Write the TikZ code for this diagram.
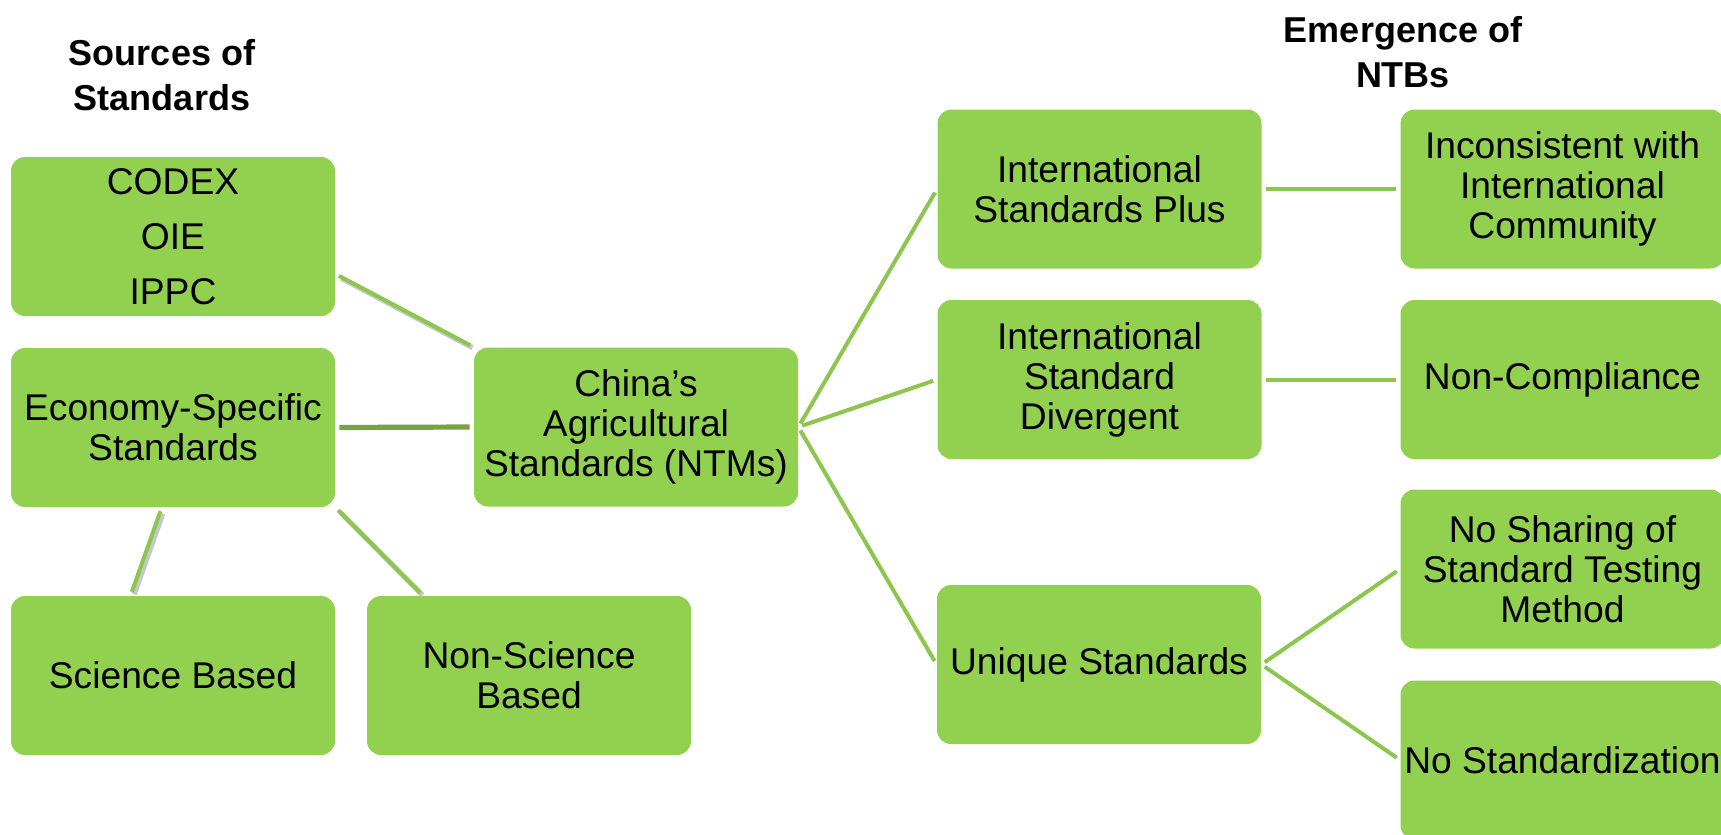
\documentclass[tikz,border=0pt]{standalone}
\usepackage{fontspec}
\setmainfont{Liberation Sans}
\usepackage{tikz}

\definecolor{boxgreen}{RGB}{146,208,80}
\definecolor{linegreen}{RGB}{141,198,78}
\definecolor{darkline}{RGB}{119,163,63}

\begin{document}
\begin{tikzpicture}[x=0.5pt,y=0.5pt,yscale=-1,xscale=1,
  greenbox/.style={fill=boxgreen, rounded corners=7pt, minimum width=162pt, minimum height=79.5pt, align=center, inner sep=0pt, font=\fontsize{18.6}{20}\selectfont},
  titletext/.style={align=center, font=\bfseries\fontsize{18}{22.5}\selectfont},
  link/.style={draw=linegreen, line width=2pt, shorten <=2pt, shorten >=2pt},
  shadowlink/.style={link, preaction={draw=black!22, line width=2.6pt, transform canvas={shift={(1.2pt,-1.2pt)}}}}
]
\clip (0,0) rectangle (1721,835);

% Titles
\node [titletext] (srctitle) at (162,75) {Sources of\\Standards};
\node [titletext] (ntbtitle) at (1403,52) {Emergence of\\NTBs};

% Sources of standards
\node [greenbox, font=\fontsize{18.6}{27.5}\selectfont] (codex) at (173,236.5) {CODEX\\OIE\\IPPC};
\node [greenbox] (econ) at (173,427.5) {Economy-Specific\\Standards};
\node [greenbox] (sci) at (173,675.5) {Science Based};
\node [greenbox] (nonsci) at (529,675.5) {Non-Science\\Based};

% Centre
\node [greenbox] (china) at (636,427) {China's\\Agricultural\\Standards (NTMs)};

% Kinds of standards
\node [greenbox] (plus) at (1099.5,189) {International\\Standards Plus};
\node [greenbox] (diverg) at (1099.5,379.5) {International\\Standard\\Divergent};
\node [greenbox] (unique) at (1099,664.5) {Unique Standards};

% Emergence of NTBs
\node [greenbox] (incons) at (1562.5,189) {Inconsistent with\\International\\Community};
\node [greenbox] (noncomp) at (1562.5,379.5) {Non-Compliance};
\node [greenbox] (noshare) at (1562.5,569) {No Sharing of\\Standard Testing\\Method};
\node [greenbox] (nostd) at (1562.5,760) {No Standardization};

% Connectors
\draw [shadowlink] (codex.-13) -- (china.north west);
\draw [link, draw=darkline, line width=2.6pt] (econ.east) -- (china.west);
\draw [shadowlink] (econ.-98) -- (sci.118);
\draw [shadowlink] (econ.south east) -- (nonsci.143);
\draw [link] (china.east) -- (plus.west);
\draw [link] (china.east) -- (diverg.west);
\draw [link] (china.east) -- (unique.west);
\draw [link] (plus.east) -- (incons.west);
\draw [link] (diverg.east) -- (noncomp.west);
\draw [link] (unique.east) -- (noshare.west);
\draw [link] (unique.east) -- (nostd.west);

\end{tikzpicture}
\end{document}
